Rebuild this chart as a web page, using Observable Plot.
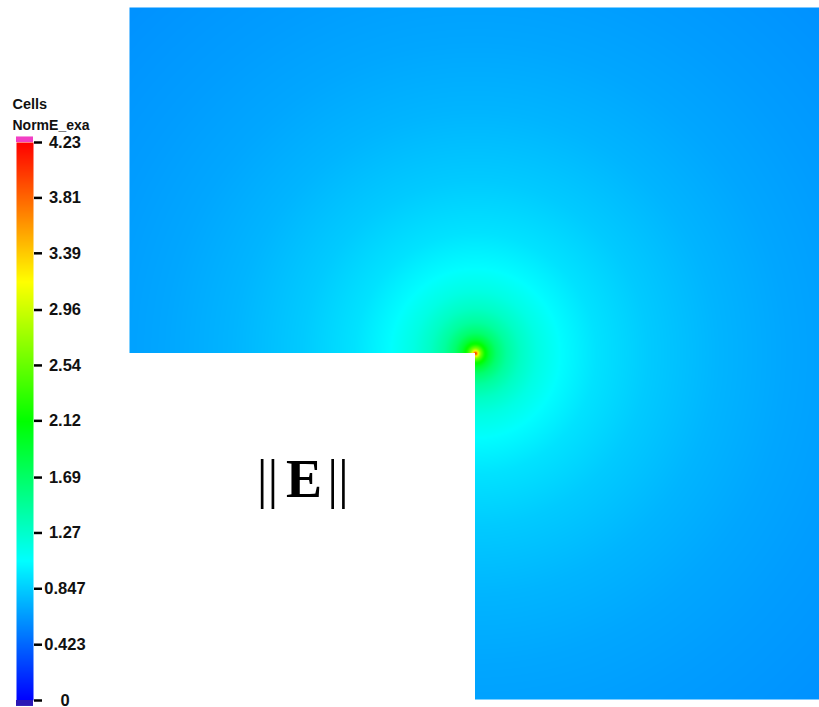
<!DOCTYPE html>
<html>
<head>
<meta charset="utf-8">
<script src="https://cdn.jsdelivr.net/npm/d3@7"></script>
<script src="https://cdn.jsdelivr.net/npm/@observablehq/plot@0.6"></script>
<style>
  html, body { margin: 0; padding: 0; background: white; overflow: hidden; }
  #wrap { position: relative; width: 819px; height: 707px; }
  #wrap > svg, #wrap > figure { position: absolute; left: 0; top: 0; margin: 0; }
</style>
</head>
<body>
<div id="wrap"></div>
<script>
// ---- data ----
// |E| as a function of distance from the re-entrant corner (domain units)
const ringRadius = [0, 0.004, 0.008, 0.015, 0.025, 0.04, 0.06, 0.09, 0.13, 0.18, 0.25, 0.35, 0.5, 0.7, 0.9, 1.1, 1.3, 1.5];
const ringNormE  = [4.23, 3.75, 3.1, 2.6, 2.2, 1.9, 1.66, 1.46, 1.3, 1.17, 1.05, 0.94, 0.84, 0.75, 0.69, 0.65, 0.62, 0.59];
// sampling angles (degrees) covering the L-shaped domain (270°)
const sampleAngles = d3.range(-90, 180.01, 2.5);
// removed quadrant of the L-shaped domain
const holeX = [-1, 0];
const holeY = [-1, 0];
// colour bar
const colorStops  = [0, 1.0575, 2.115, 3.1725, 4.23];
const colorRamp   = ["#0000ff", "#00ffff", "#00ff00", "#ffff00", "#ff0000"];
const tickValues  = [0, 0.423, 0.847, 1.27, 1.69, 2.12, 2.54, 2.96, 3.39, 3.81, 4.23];
const tickLabels  = ["0", "0.423", "0.847", "1.27", "1.69", "2.12", "2.54", "2.96", "3.39", "3.81", "4.23"];
const legendTitle = ["Cells", "NormE_exa"];
const fieldLabel  = {x: -0.5, y: -0.416};

// ---- build sample table ----
const samples = [];
ringRadius.forEach((r, i) => {
  const angs = r === 0 ? [0] : sampleAngles;
  for (const a of angs) {
    const t = a * Math.PI / 180;
    samples.push({x: r * Math.cos(t), y: r * Math.sin(t), v: ringNormE[i]});
  }
});

const colorScale = {type: "linear", domain: colorStops, range: colorRamp, interpolate: "rgb"};

const main = Plot.plot({
  width: 819,
  height: 707,
  style: {background: "white", fontFamily: "Liberation Serif", overflow: "hidden"},
  x: {domain: [-1, 1], range: [129, 821], axis: null},
  y: {domain: [-1, 1], range: [699, 7], axis: null},
  color: colorScale,
  marks: [
    Plot.raster(samples, {x: "x", y: "y", fill: "v", interpolate: "barycentric", x1: -1, x2: 1, y1: -1, y2: 1, pixelSize: 1}),
    Plot.rect([{}], {x1: holeX[0], x2: holeX[1], y1: holeY[0], y2: holeY[1], fill: "white", insetLeft: -3, insetBottom: -3}),
    Plot.text([fieldLabel], {x: "x", y: "y", text: () => "||", dx: -35, fontSize: 54, lineAnchor: "bottom", fill: "black", fontFamily: "Liberation Serif"}),
    Plot.text([fieldLabel], {x: "x", y: "y", text: () => "E", dx: 1.5, fontSize: 54, fontWeight: "bold", lineAnchor: "bottom", fill: "black", fontFamily: "Liberation Serif"}),
    Plot.text([fieldLabel], {x: "x", y: "y", text: () => "||", dx: 35.5, fontSize: 54, lineAnchor: "bottom", fill: "black", fontFamily: "Liberation Serif"})
  ]
});

const legend = Plot.plot({
  width: 128,
  height: 707,
  style: {background: "transparent", fontFamily: "Liberation Sans"},
  x: {domain: [0, 128], range: [0, 128], axis: null},
  y: {domain: [0, 4.23], range: [700, 142], axis: null},
  color: colorScale,
  marks: [
    Plot.raster({fill: (x, y) => y, x1: 16, x2: 33, y1: 0, y2: 4.23, pixelSize: 1}),
    Plot.rect([{}], {x1: 16, x2: 33, y1: 4.23, y2: 4.272, fill: "#f23fc4"}),
    Plot.rect([{}], {x1: 16, x2: 33, y1: -0.045, y2: 0, fill: "#2b18b5"}),
    Plot.ruleY(tickValues, {x1: 34, x2: 42, stroke: "black", strokeWidth: 2.5}),
    Plot.text(tickValues, {y: d => d, x: 64.5, text: (d, i) => tickLabels[i], fontSize: 16.5, fontWeight: "bold", fill: "#111", textAnchor: "middle"}),
    Plot.text([legendTitle[0]], {frameAnchor: "top-left", dx: 12, dy: 98, text: d => d, fontSize: 14.5, fontWeight: "bold", fill: "#111", textAnchor: "start", lineAnchor: "top"}),
    Plot.text([legendTitle[1]], {frameAnchor: "top-left", dx: 12, dy: 120, text: d => d, fontSize: 14, fontWeight: "bold", fill: "#111", textAnchor: "start", lineAnchor: "top"})
  ]
});

document.getElementById("wrap").append(main, legend);
</script>
</body>
</html>
